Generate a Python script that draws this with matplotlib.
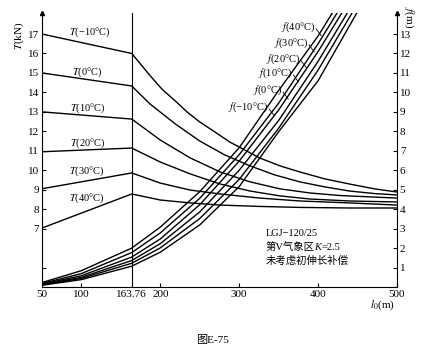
import matplotlib

matplotlib.use("Agg")
import matplotlib.pyplot as plt

plt.rcParams["font.family"] = ["Liberation Serif", "DejaVu Serif"]
plt.rcParams["mathtext.fontset"] = "stix"

# span axis (m)
KINK = 163.76
x_ticks = [50, 100, 163.76, 200, 300, 400, 500]
x_tick_labels = ["50", "100", "163.76", "200", "300", "400", "500"]
t_ticks = [5, 7, 8, 9, 10, 11, 12, 13, 14, 15, 16, 17]
f_ticks = list(range(1, 14))

temps = [-10, 0, 10, 20, 30, 40]

# tension T (kN) against span l0 (m), one curve per temperature
t_span = {
    -10: [50, 163.76, 174, 187, 202, 219, 234, 250, 269, 288, 307, 326, 352, 377, 409, 440, 472, 500],
    0: [50, 163.76, 187, 219, 250, 282, 314, 345, 377, 409, 440, 472, 500],
    10: [50, 163.76, 200, 238, 276, 314, 352, 390, 428, 466, 500],
    20: [50, 163.76, 200, 238, 276, 314, 352, 390, 440, 500],
    30: [50, 163.76, 200, 238, 276, 326, 377, 440, 500],
    40: [50, 163.76, 200, 238, 276, 326, 377, 440, 500],
}
t_vals = {
    -10: [17.0, 16.0, 15.5, 14.86, 14.17, 13.56, 12.99, 12.48, 11.97, 11.45, 11.04, 10.63,
          10.22, 9.91, 9.55, 9.29, 9.04, 8.88],
    0: [15.0, 14.33, 13.4, 12.38, 11.5, 10.78, 10.22, 9.76, 9.4, 9.14, 8.93, 8.8, 8.73],
    10: [13.0, 12.63, 11.55, 10.63, 9.91, 9.4, 9.04, 8.83, 8.7, 8.63, 8.57],
    20: [10.95, 11.14, 10.42, 9.81, 9.29, 8.93, 8.68, 8.52, 8.42, 8.37],
    30: [9.05, 9.86, 9.34, 8.98, 8.78, 8.57, 8.42, 8.32, 8.21],
    40: [7.03, 8.78, 8.47, 8.32, 8.21, 8.14, 8.09, 8.06, 8.06],
}

# sag f (m) against span l0 (m)
f_span = {
    40: [50, 100, 163.76, 200, 250, 300, 350, 400, 418],
    30: [50, 100, 163.76, 200, 250, 300, 350, 400, 424],
    20: [50, 100, 163.76, 200, 250, 300, 350, 400, 430],
    10: [50, 100, 163.76, 200, 250, 300, 350, 400, 437],
    0: [50, 100, 163.76, 200, 250, 300, 350, 400, 443],
    -10: [50, 100, 163.76, 200, 250, 300, 350, 400, 449],
}
f_vals = {
    40: [0.23, 0.84, 2.0, 3.08, 4.9, 7.16, 10.1, 12.9, 14.08],
    30: [0.18, 0.69, 1.77, 2.78, 4.56, 6.8, 9.45, 12.5, 14.08],
    20: [0.15, 0.58, 1.54, 2.47, 4.23, 6.47, 9.1, 12.1, 14.08],
    10: [0.12, 0.5, 1.36, 2.23, 3.86, 6.0, 8.56, 11.6, 14.08],
    0: [0.11, 0.44, 1.22, 2.01, 3.52, 5.53, 8.16, 11.15, 14.08],
    -10: [0.09, 0.38, 1.07, 1.79, 3.19, 5.16, 7.98, 10.6, 14.08],
}

# label anchors (data coords)
t_label_pos = {-10: (111, 17.1), 0: (107, 15.05), 10: (108, 13.2), 20: (108, 11.4),
               30: (107, 9.96), 40: (107, 8.57)}
f_label_pos = {40: (396, 13.36), 30: (387, 12.54), 20: (377, 11.72), 10: (367, 11.0),
               0: (354, 10.12), -10: (336.5, 9.25)}

T_MIN, T_MAX = 4, 18.08
F_OFFSET = 4


def temp_str(t):
    return f"{'−' if t < 0 else ''}{abs(t)}°C"


fig = plt.figure(figsize=(4.25, 3.57), dpi=100)
ax = fig.add_axes([42 / 425, 70 / 357, 355 / 425, 274 / 357])
ax.set_xlim(50, 500)
ax.set_ylim(T_MIN, T_MAX)
ax2 = ax.twinx()
ax2.set_ylim(T_MIN - F_OFFSET, T_MAX - F_OFFSET)

lw = 1.0
for t in temps:
    ax.plot(t_span[t], t_vals[t], color="black", lw=lw)
    ax2.plot(f_span[t], f_vals[t], color="black", lw=lw)

ax.axvline(KINK, color="black", lw=0.8)

for t in temps:
    tx, ty = t_label_pos[t]
    ax.text(tx, ty, f"$T$({temp_str(t)})", fontsize=7.5, ha="center", va="center")
    fx, fy = f_label_pos[t]
    ax2.text(fx, fy, f"$f$({temp_str(t)})", fontsize=7.5, ha="right", va="center")
    # short leader from the label towards its curve
    ax2.plot([fx + 1.5, fx + 8], [fy - 0.1, fy - 0.45], color="black", lw=0.6)

for a in (ax, ax2):
    a.spines["top"].set_visible(False)
    for side in ("left", "right", "bottom"):
        a.spines[side].set_linewidth(0.8)
ax.spines["right"].set_visible(False)
ax2.spines["left"].set_visible(False)
ax2.spines["bottom"].set_visible(False)

ax.set_xticks(x_ticks)
ax.set_xticklabels(x_tick_labels)
ax.set_yticks(t_ticks)
ax.set_yticklabels(["" if v == 5 else str(v) for v in t_ticks])
ax2.set_yticks(f_ticks)
ax.tick_params(axis="both", direction="in", length=3, width=0.8, labelsize=8, pad=2)
ax2.tick_params(axis="y", direction="in", length=3, width=0.8, labelsize=8, pad=2)

# axis arrows
ax.plot([50], [T_MAX], marker="^", color="black", ms=3, clip_on=False)
ax2.plot([500], [T_MAX - F_OFFSET], marker="^", color="black", ms=3, clip_on=False)

ax.text(-0.065, 0.916, "$T$(kN)", transform=ax.transAxes, rotation=90, fontsize=8,
        ha="center", va="center")
ax2.text(1.034, 0.985, "$f$(m)", transform=ax.transAxes, rotation=-90, fontsize=8,
         ha="center", va="center")
ax.text(0.96, -0.065, "$l_0$(m)", transform=ax.transAxes, fontsize=8,
        ha="center", va="center")

note_font = ["Liberation Serif", "Noto Sans CJK SC"]
ax.text(333, 6.75, "LGJ−120/25", fontsize=7.5, family=note_font, va="center")
line2 = ax.text(333, 6.05, "第V气象区", fontsize=7.5, family=note_font, va="center")
k_txt = ax.annotate("K", xy=(1, 0), xycoords=line2, fontsize=7.5, style="italic",
                    family="Liberation Serif", va="bottom", ha="left")
ax.annotate("=2.5", xy=(1, 0), xycoords=k_txt, fontsize=7.5, family="Liberation Serif",
            va="bottom", ha="left")
ax.text(333, 5.35, "未考虑初伸长补偿", fontsize=7.5, family=note_font, va="center")

fig.text(212 / 425, 1 - 340 / 357, "图E-75", fontsize=8,
         family=["Liberation Serif", "Noto Sans CJK SC"], ha="center", va="center")

fig.savefig("out.png", dpi=100)
